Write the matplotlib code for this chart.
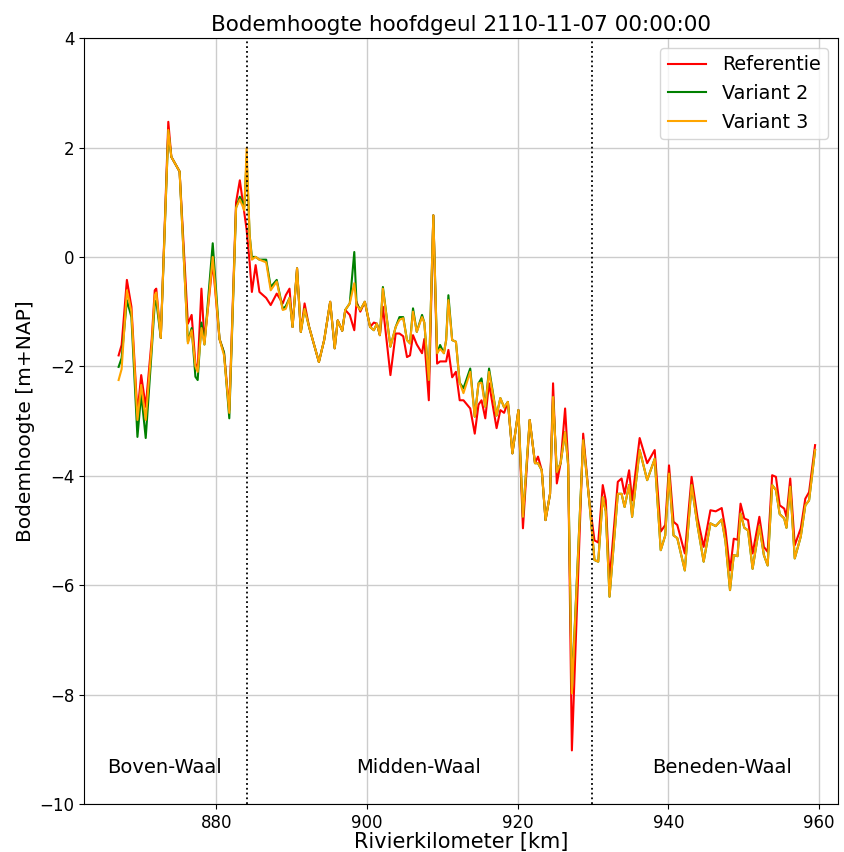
import numpy as np
import matplotlib
matplotlib.use('Agg')
import matplotlib.pyplot as plt

# rivierkilometer and bed level per scenario
km = [867.0, 867.4, 868.1, 868.7, 869.5, 870.0, 870.6, 871.4, 871.8, 872.0,
      872.6, 873.6, 874.0, 875.1, 876.2, 876.7, 877.2, 877.5, 878.0, 878.4,
      879.5, 880.4, 881.0, 881.7, 882.6, 883.1, 883.7, 884.0, 884.4, 884.7,
      885.2, 885.7, 886.6, 887.2, 888.0, 888.8, 889.2, 889.7, 890.1, 890.7,
      891.2, 891.7, 892.3, 893.6, 894.3, 895.1, 895.7, 896.1, 896.7, 897.1,
      897.7, 898.3, 898.6, 899.1, 899.7, 900.4, 900.9, 901.3, 901.7, 902.1,
      903.1, 903.8, 904.3, 904.8, 905.3, 905.7, 906.1, 906.6, 907.3, 907.6,
      908.2, 908.8, 909.3, 909.7, 910.2, 910.5, 910.8, 911.3, 911.8, 912.3,
      912.8, 913.7, 914.3, 914.8, 915.2, 915.7, 916.2, 917.2, 917.7, 918.2,
      918.7, 919.3, 920.1, 920.7, 921.6, 922.3, 922.7, 923.2, 923.7, 924.3,
      924.7, 925.2, 925.7, 926.3, 926.7, 927.2, 928.7, 929.5, 930.2, 930.7,
      931.3, 931.7, 932.2, 933.3, 933.8, 934.2, 934.8, 935.2, 936.2, 937.2,
      938.2, 939.0, 939.6, 940.1, 940.7, 941.2, 942.2, 943.1, 943.9, 944.7,
      945.6, 946.3, 947.1, 947.6, 948.2, 948.7, 949.2, 949.6, 950.1, 950.6,
      951.2, 952.1, 952.7, 953.2, 953.8, 954.3, 954.8, 955.4, 955.7, 956.2,
      956.8, 957.6, 958.2, 958.7, 959.5]

referentie = [-1.80, -1.61, -0.42, -0.91, -2.86, -2.16, -2.74, -1.50, -0.61, -0.58,
              -1.48, 2.47, 1.83, 1.56, -1.22, -1.06, -1.95, -2.05, -0.58, -1.55,
              -0.10, -1.50, -1.75, -2.80, 1.00, 1.40, 0.80, 0.50, -0.10, -0.64,
              -0.15, -0.64, -0.75, -0.88, -0.67, -0.85, -0.70, -0.58, -1.28, -0.21,
              -1.37, -0.85, -1.28, -1.92, -1.52, -0.82, -1.67, -1.16, -1.35, -0.97,
              -1.06, -1.34, -0.82, -1.00, -0.82, -1.28, -1.20, -1.22, -1.43, -0.91,
              -2.16, -1.40, -1.40, -1.45, -1.83, -1.80, -1.43, -1.60, -1.76, -1.50,
              -2.62, 0.76, -1.95, -1.91, -1.91, -1.91, -1.70, -2.20, -2.10, -2.62,
              -2.62, -2.77, -3.23, -2.70, -2.62, -2.95, -2.31, -3.13, -2.80, -2.85,
              -2.65, -3.59, -2.80, -4.96, -2.98, -3.77, -3.65, -3.90, -4.81, -4.33,
              -2.31, -4.14, -3.77, -2.77, -3.72, -9.02, -3.23, -4.45, -5.18, -5.22,
              -4.17, -4.45, -5.91, -4.11, -4.05, -4.33, -3.90, -4.45, -3.31, -3.77,
              -3.53, -5.02, -4.90, -3.81, -4.84, -4.90, -5.42, -4.02, -4.78, -5.30,
              -4.63, -4.65, -4.59, -4.99, -5.73, -5.15, -5.17, -4.51, -4.78, -4.81,
              -5.42, -4.75, -5.30, -5.39, -3.99, -4.02, -4.54, -4.60, -4.75, -4.05,
              -5.27, -4.96, -4.42, -4.30, -3.44]

variant2 = [-2.01, -1.85, -0.79, -1.10, -3.29, -2.50, -3.31, -1.70, -0.85, -0.80,
            -1.48, 2.30, 1.83, 1.56, -1.55, -1.30, -2.19, -2.25, -1.20, -1.60,
            0.25, -1.50, -1.75, -2.95, 0.90, 1.10, 0.92, 1.80, 0.40, 0.00,
            0.00, -0.05, -0.05, -0.55, -0.42, -0.95, -0.90, -0.75, -1.28, -0.21,
            -1.37, -0.95, -1.28, -1.92, -1.52, -0.82, -1.67, -1.16, -1.35, -0.97,
            -0.85, 0.09, -0.85, -0.97, -0.82, -1.28, -1.34, -1.22, -1.43, -0.55,
            -1.64, -1.28, -1.10, -1.10, -1.52, -1.58, -0.94, -1.37, -1.06, -1.20,
            -2.25, 0.76, -1.76, -1.61, -1.76, -1.52, -0.70, -1.52, -1.55, -2.30,
            -2.40, -2.04, -2.92, -2.31, -2.22, -2.74, -2.04, -2.90, -2.58, -2.75,
            -2.65, -3.59, -2.80, -4.75, -2.98, -3.77, -3.77, -3.90, -4.81, -4.33,
            -2.56, -3.93, -3.77, -3.20, -3.80, -7.90, -3.35, -4.45, -5.54, -5.57,
            -4.39, -4.65, -6.21, -4.33, -4.33, -4.57, -4.17, -4.75, -3.53, -4.08,
            -3.69, -5.36, -5.09, -3.96, -5.09, -5.14, -5.73, -4.17, -4.92, -5.57,
            -4.87, -4.92, -4.80, -5.20, -6.09, -5.45, -5.47, -4.69, -4.95, -5.00,
            -5.70, -4.92, -5.45, -5.64, -4.17, -4.26, -4.70, -4.78, -4.95, -4.20,
            -5.51, -5.11, -4.54, -4.45, -3.53]

variant3 = [-2.25, -2.05, -0.61, -1.00, -2.98, -2.34, -2.98, -1.60, -0.70, -0.65,
            -1.48, 2.32, 1.83, 1.56, -1.58, -1.34, -2.00, -2.10, -1.30, -1.60,
            0.00, -1.50, -1.80, -2.85, 0.90, 1.05, 0.85, 1.99, 0.40, -0.05,
            0.00, -0.05, -0.10, -0.61, -0.45, -0.97, -0.95, -0.75, -1.28, -0.21,
            -1.37, -0.95, -1.28, -1.92, -1.52, -0.82, -1.67, -1.16, -1.35, -0.97,
            -0.85, -0.48, -0.88, -0.97, -0.82, -1.28, -1.34, -1.22, -1.43, -0.58,
            -1.64, -1.28, -1.15, -1.12, -1.52, -1.58, -1.00, -1.37, -1.10, -1.20,
            -2.25, 0.76, -1.76, -1.68, -1.76, -1.52, -0.79, -1.52, -1.55, -2.30,
            -2.49, -2.10, -2.92, -2.31, -2.30, -2.74, -2.10, -2.90, -2.58, -2.75,
            -2.65, -3.59, -2.80, -4.75, -2.98, -3.77, -3.77, -3.90, -4.81, -4.33,
            -2.56, -3.93, -3.77, -3.20, -3.80, -7.98, -3.35, -4.45, -5.54, -5.57,
            -4.39, -4.65, -6.21, -4.33, -4.33, -4.57, -4.17, -4.75, -3.53, -4.08,
            -3.69, -5.36, -5.09, -3.96, -5.09, -5.14, -5.73, -4.17, -4.92, -5.57,
            -4.87, -4.92, -4.80, -5.20, -6.09, -5.45, -5.47, -4.69, -4.95, -5.00,
            -5.70, -4.92, -5.45, -5.64, -4.17, -4.26, -4.70, -4.78, -4.95, -4.20,
            -5.51, -5.11, -4.54, -4.45, -3.53]

# river section boundaries and names
grenzen = [884.1, 929.9]
trajecten = ['Boven-Waal', 'Midden-Waal', 'Beneden-Waal']
traject_x = [873.1, 906.9, 947.2]

fig = plt.figure(figsize=(8.44, 8.52), dpi=100)
ax = fig.add_axes([0.0995, 0.0563, 0.893, 0.899])

ax.plot(km, referentie, color='red', lw=1.5, label='Referentie')
ax.plot(km, variant2, color='green', lw=1.5, label='Variant 2')
ax.plot(km, variant3, color='orange', lw=1.5, label='Variant 3')

for g in grenzen:
    ax.axvline(g, color='black', ls=':', lw=1.3)
for naam, x in zip(trajecten, traject_x):
    ax.text(x, -9.33, naam, ha='center', va='center', fontsize=14)

ax.set_xlim(862.4, 962.5)
ax.set_ylim(-10, 4)
ax.set_xticks([880, 900, 920, 940, 960])
ax.set_yticks(np.arange(-10, 5, 2))
ax.grid(True, color='#cccccc', lw=1)
ax.tick_params(labelsize=12)
ax.set_xlabel('Rivierkilometer [km]', fontsize=15, labelpad=0)
ax.set_ylabel('Bodemhoogte [m+NAP]', fontsize=14.5, labelpad=3)
ax.set_title('Bodemhoogte hoofdgeul 2110-11-07 00:00:00', fontsize=15.5, pad=5)
ax.legend(loc='upper right', fontsize=13.8)

fig.savefig('out.png', dpi=100)
